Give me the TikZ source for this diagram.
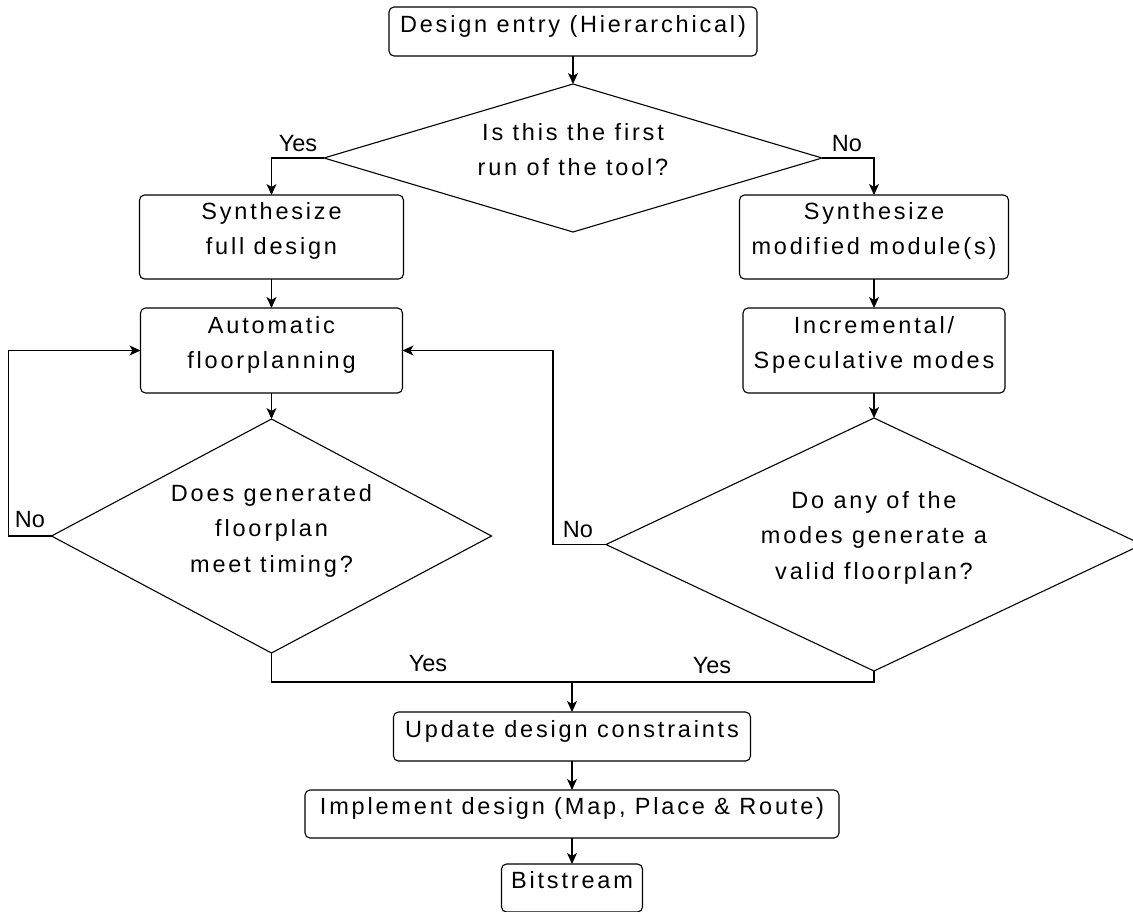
\documentclass[tikz,border=0pt]{standalone}
\usepackage{fontspec}
\setmainfont{Liberation Sans}
\newfontfamily\spacedsans[LetterSpace=12]{Liberation Sans}
\usetikzlibrary{arrows.meta,shapes.geometric}

\begin{document}
\begin{tikzpicture}[x=1pt,y=-1pt,
  flowbox/.style={draw, rounded corners=5pt, line width=1.1pt, inner sep=0pt, outer sep=0pt},
  decision/.style={draw, diamond, line width=1.1pt, inner sep=0pt, outer sep=0pt},
  boxtext/.style={font=\spacedsans\fontsize{23.5}{35.5}\selectfont, align=center, inner sep=0pt},
  lbl/.style={font=\fontsize{23.5}{28}\selectfont, inner sep=0pt, anchor=base},
  flow/.style={draw, line width=1.1pt, -{Stealth[length=11pt,width=10pt,inset=3pt]}},
  link/.style={draw, line width=1.1pt}
]
\useasboundingbox (0,0) rectangle (1133,911);
\clip (0,0) rectangle (1133,911);

% shapes
\node[flowbox, minimum width=368pt, minimum height=49pt] (entry) at (573,31.5) {};
\node[decision, minimum width=498pt, minimum height=148pt] (first) at (573,158) {};
\node[flowbox, minimum width=264pt, minimum height=84pt] (full) at (271.5,237) {};
\node[flowbox, minimum width=269pt, minimum height=84pt] (modif) at (874,237) {};
\node[flowbox, minimum width=262pt, minimum height=85pt] (floor) at (271.5,350.5) {};
\node[flowbox, minimum width=262pt, minimum height=85pt] (incr) at (874,350.5) {};
\node[decision, minimum width=440pt, minimum height=234pt] (timing) at (271.5,536) {};
\node[decision, minimum width=536pt, minimum height=253pt] (valid) at (874,544.5) {};
\node[flowbox, minimum width=357pt, minimum height=49pt] (update) at (572,736.5) {};
\node[flowbox, minimum width=534pt, minimum height=48pt] (impl) at (572,814) {};
\node[flowbox, minimum width=141pt, minimum height=48pt] (bits) at (572,888) {};

% texts
\node[boxtext, anchor=north] (entry-t) at (573,15) {Design entry (Hierarchical)};
\node[boxtext, anchor=north] (first-t) at (573,123) {Is this the first\\run of the tool?};
\node[boxtext, anchor=north] (full-t) at (271.5,202) {Synthesize\\full design};
\node[boxtext, anchor=north] (modif-t) at (874,202) {Synthesize\\modified module(s)};
\node[boxtext, anchor=north] (floor-t) at (271.5,316) {Automatic\\floorplanning};
\node[boxtext, anchor=north] (incr-t) at (874,316) {Incremental/\\Speculative modes};
\node[boxtext, anchor=north] (timing-t) at (271.5,484) {Does generated\\floorplan\\meet timing?};
\node[boxtext, anchor=north] (valid-t) at (874,491) {Do any of the\\modes generate a\\valid floorplan?};
\node[boxtext, anchor=base] (update-t) at (572,737) {Update design constraints};
\node[boxtext, anchor=base] (impl-t) at (572,814) {Implement design (Map, Place \& Route)};
\node[boxtext, anchor=base] (bits-t) at (572,888) {Bitstream};

% branch labels
\node[lbl] (yes1) at (298,151) {Yes};
\node[lbl] (no1) at (847,151) {No};
\node[lbl] (no2) at (30,527) {No};
\node[lbl] (no3) at (578,537) {No};
\node[lbl] (yes2) at (428,671) {Yes};
\node[lbl] (yes3) at (712,673) {Yes};

% connectors
\coordinate (merge) at (572,682);
\path[flow] (entry.south) -- (first.north);
\path[flow] (first.west) -| (full.north);
\path[flow] (first.east) -| (modif.north);
\path[flow] (full.south) -- (floor.north);
\path[flow] (modif.south) -- (incr.north);
\path[flow] (floor.south) -- (timing.north);
\path[flow] (incr.south) -- (valid.north);
\path[flow] (timing.west) -- ++(-43,0) |- (floor.west);
\path[flow] (valid.west) -- ++(-53,0) |- (floor.east);
\path[link] (timing.south) |- (merge) -| (valid.south);
\path[flow] (merge) -- (update.north);
\path[flow] (update.south) -- (impl.north);
\path[flow] (impl.south) -- (bits.north);
\end{tikzpicture}
\end{document}
